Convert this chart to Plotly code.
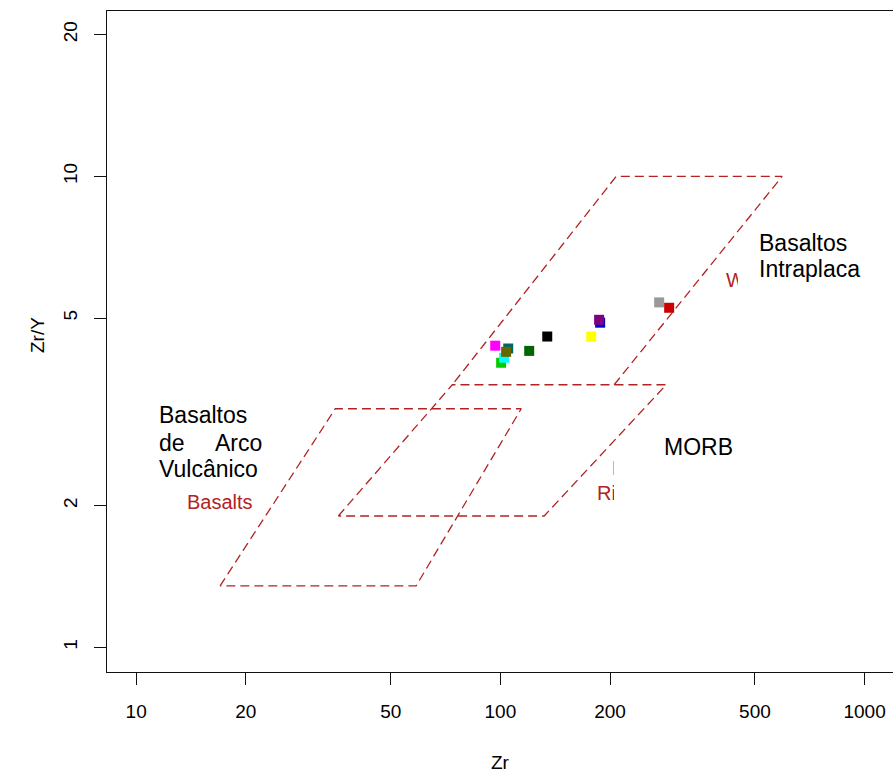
import plotly.graph_objects as go

# ---------------- data ----------------
sample_names = ["Amostra 1", "Amostra 2", "Amostra 3", "Amostra 4", "Amostra 5", "Amostra 6",
                "Amostra 7", "Amostra 8", "Amostra 9", "Amostra 10", "Amostra 11", "Amostra 12"]
zr = [100.5, 102.4, 105.1, 103.7, 96.8, 120.0, 134.5, 177.6, 187.9, 186.7, 272.9, 290.7]
zr_y = [4.02, 4.12, 4.31, 4.24, 4.37, 4.26, 4.57, 4.57, 4.89, 4.96, 5.40, 5.26]
sample_colors = ["#00CC00", "#00FFFF", "#006666", "#666600", "#FF00FF", "#006600",
                 "#000000", "#FFFF00", "#0000CC", "#800080", "#999999", "#CC0000"]

# field boundaries (Pearce & Norry 1979 style)
arc_zr = [17.0, 35.2, 114.1, 58.7, 17.0]
arc_ratio = [1.35, 3.21, 3.21, 1.35, 1.35]
morb_zr = [35.9, 73.8, 285.3, 131.9, 35.9]
morb_ratio = [1.90, 3.61, 3.61, 1.90, 1.90]
wpb_zr = [205.3, 593.8, 208.0, 73.8]
wpb_ratio = [3.61, 10.0, 10.0, 3.61]

x_ticks = [10, 20, 50, 100, 200, 500, 1000]
y_ticks = [1, 2, 5, 10, 20]

# ---------------- figure ----------------
FONT = "Liberation Sans, Arial, Helvetica, sans-serif"
FIELD_COLOR = "#B22222"
W, H = 893, 772
L, T, B = 107, 11, 672


def xp(px):
    return (px - L) / (W - L)


def yp(py):
    return (B - py) / (B - T)


fig = go.Figure()

for fx, fy in [(arc_zr, arc_ratio), (morb_zr, morb_ratio), (wpb_zr, wpb_ratio)]:
    fig.add_trace(go.Scatter(x=fx, y=fy, mode="lines",
                             line=dict(color=FIELD_COLOR, width=1.3, dash="9px,5px"),
                             hoverinfo="skip", showlegend=False))

for name, x, y, c in zip(sample_names, zr, zr_y, sample_colors):
    fig.add_trace(go.Scatter(x=[x], y=[y], mode="markers", name=name,
                             marker=dict(symbol="square", size=10, color=c, line=dict(width=0)),
                             showlegend=False))

ann = []


def text(px, py, s, size, color="black", xanchor="left", **kw):
    ann.append(dict(x=xp(px), y=yp(py), xref="paper", yref="paper", text=s, showarrow=False,
                    xanchor=xanchor, yanchor="middle",
                    font=dict(family=FONT, size=size, color=color), **kw))


def box(x0, y0, x1, y1):
    ann.append(dict(x=xp(x0), y=yp(y0), xref="paper", yref="paper", text=" ", showarrow=False,
                    xanchor="left", yanchor="top", width=x1 - x0, height=y1 - y0,
                    bgcolor="white", borderpad=0, borderwidth=0,
                    font=dict(family=FONT, size=10, color="white")))


# original (English) field labels, partly hidden by white label boxes
text(185, 502, "Basalts", 20, FIELD_COLOR)
text(595, 493, "Ri", 20, FIELD_COLOR)
text(610, 468, "Mi", 20, FIELD_COLOR)
text(724, 280, "Wi", 20, FIELD_COLOR)

box(614, 456, 720, 510)
box(738, 266, 760, 294)

# Portuguese labels
text(157, 415, "Basaltos", 23)
text(157, 443, "de", 23)
text(264, 443, "Arco", 23, xanchor="right")
text(157, 469, "Vulcânico", 23)
text(662, 447, "MORB", 23)
text(757, 243, "Basaltos", 23)
text(757, 269, "Intraplaca", 23)

# axis titles
text(500, 762, "Zr", 19, xanchor="center")
ann.append(dict(x=xp(37), y=yp(335), xref="paper", yref="paper", text="Zr/Y", showarrow=False,
                xanchor="center", yanchor="middle", textangle=-90,
                font=dict(family=FONT, size=19, color="black")))

fig.update_layout(
    width=W, height=H,
    margin=dict(l=L, r=0, t=T, b=H - B, pad=0),
    paper_bgcolor="white", plot_bgcolor="white",
    font=dict(family=FONT, size=19, color="black"),
    annotations=ann,
    showlegend=False,
)

fig.update_xaxes(type="log", range=[0.92, 3.078], showgrid=False, zeroline=False,
                 showline=True, linecolor="#111111", linewidth=1.4, mirror=True,
                 ticks="outside", ticklen=12, tickwidth=1.4, tickcolor="#111111",
                 tickvals=x_ticks, ticktext=[str(v) for v in x_ticks],
                 tickfont=dict(family=FONT, size=19, color="black"),
                 ticklabelstandoff=10)
fig.update_yaxes(type="log", range=[-0.0525, 1.3512], showgrid=False, zeroline=False,
                 showline=True, linecolor="#111111", linewidth=1.4, mirror=False,
                 ticks="outside", ticklen=12, tickwidth=1.4, tickcolor="#111111",
                 tickvals=y_ticks, ticktext=[str(v) for v in y_ticks], tickangle=-90,
                 tickfont=dict(family=FONT, size=19, color="black"),
                 ticklabelstandoff=9)

fig.write_html("out.html")
